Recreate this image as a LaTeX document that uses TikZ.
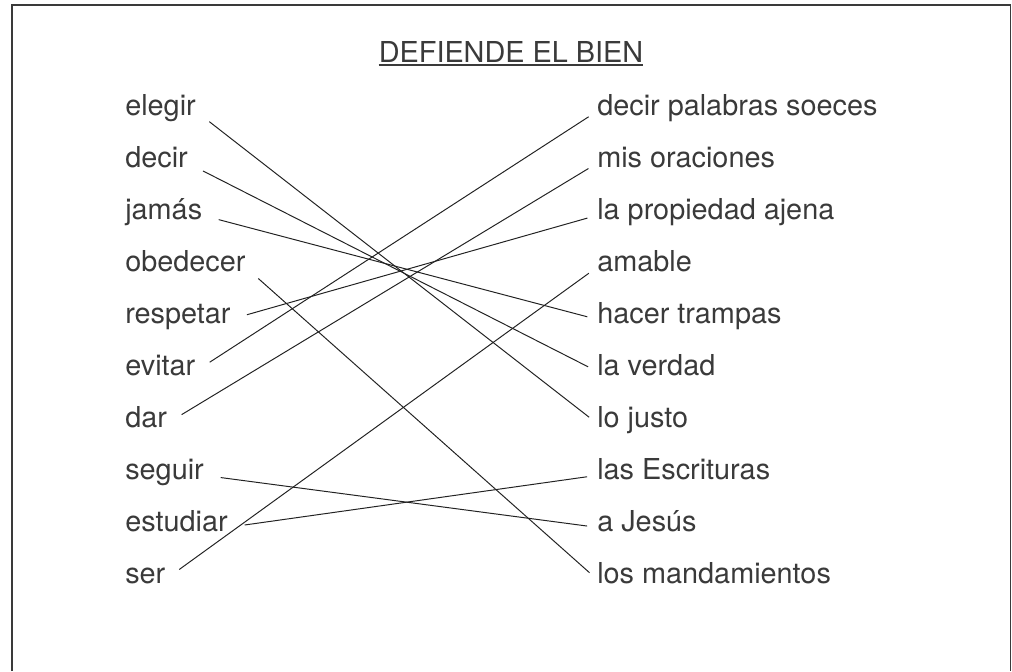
\documentclass[tikz,border=0pt]{standalone}
\usepackage{fontspec}
\setmainfont{TeX Gyre Heros}
\definecolor{txtgray}{HTML}{3A3A3A}
\definecolor{linegray}{HTML}{222222}

\begin{document}
\begin{tikzpicture}[x=0.025cm,y=-0.025cm,
	word/.style={anchor=base west,inner sep=0pt,text=txtgray,font=\fontsize{20.5}{24}\selectfont,text height=0.75em,text depth=0.23em},
	match/.style={color=linegray,line width=0.7pt,shorten <=0.42cm,shorten >=0.25cm},
	frame/.style={color=txtgray,line width=1.1pt}]
			\useasboundingbox (0,0) rectangle (1012,671);
			\draw [frame] (12,671) -- (12,5) -- (1010.5,5) -- (1010.5,671);
			% title
			\node [word,anchor=base] (title) at (511,62) {DEFIENDE EL BIEN};
			\draw [txtgray,line width=1pt] ([yshift=-2.2pt]title.base west) -- ([yshift=-2.2pt]title.base east);
			% left column
			\node [word] (l0) at (125,115) {elegir};
			\node [word] (l1) at (125,167) {decir};
			\node [word] (l2) at (125,219) {jamás};
			\node [word] (l3) at (125,271) {obedecer};
			\node [word] (l4) at (125,323) {respetar};
			\node [word] (l5) at (125,375) {evitar};
			\node [word] (l6) at (125,427) {dar};
			\node [word] (l7) at (125,479) {seguir};
			\node [word] (l8) at (125,531) {estudiar};
			\node [word] (l9) at (125,583) {ser};
			% right column
			\node [word] (r0) at (597,115) {decir palabras soeces};
			\node [word] (r1) at (597,167) {mis oraciones};
			\node [word] (r2) at (597,219) {la propiedad ajena};
			\node [word] (r3) at (597,271) {amable};
			\node [word] (r4) at (597,323) {hacer trampas};
			\node [word] (r5) at (597,375) {la verdad};
			\node [word] (r6) at (597,427) {lo justo};
			\node [word] (r7) at (597,479) {las Escrituras};
			\node [word] (r8) at (597,531) {a Jesús};
			\node [word] (r9) at (597,583) {los mandamientos};
			% matching lines
			\draw [match] (l0.east) -- (r6.west);
			\draw [match] (l1.east) -- (r5.west);
			\draw [match] (l2.east) -- (r4.west);
			\draw [match] (l3.east) -- (r9.west);
			\draw [match] (l4.east) -- (r2.west);
			\draw [match] (l5.east) -- (r0.west);
			\draw [match] (l6.east) -- (r1.west);
			\draw [match] (l7.east) -- (r8.west);
			\draw [match] (l8.east) -- (r7.west);
			\draw [match] (l9.east) -- (r3.west);
\end{tikzpicture}
\end{document}
